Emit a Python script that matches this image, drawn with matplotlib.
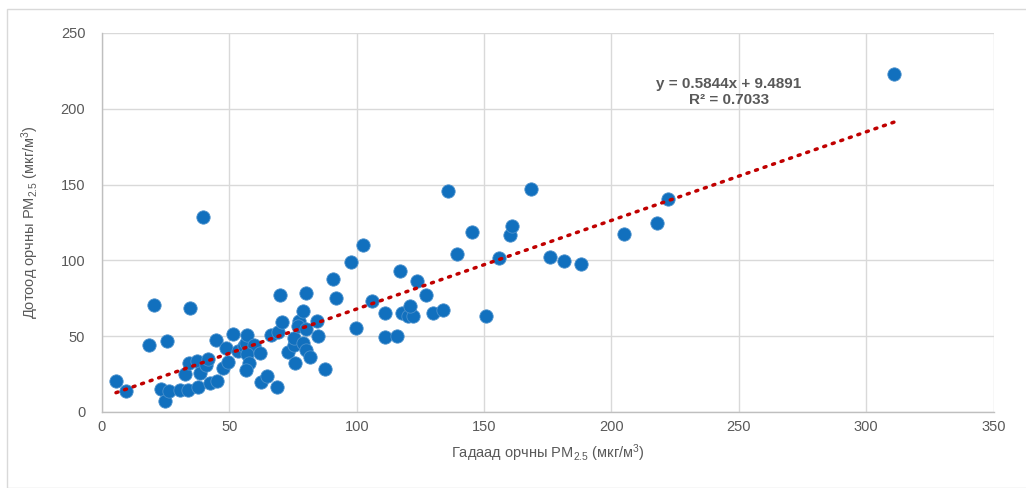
import numpy as np
import matplotlib.pyplot as plt
from matplotlib.patches import Rectangle

plt.rcParams['font.family'] = ['Liberation Sans', 'DejaVu Sans']
plt.rcParams['mathtext.fontset'] = 'custom'
plt.rcParams['mathtext.rm'] = 'Liberation Sans'
plt.rcParams['mathtext.it'] = 'Liberation Sans'

# outdoor PM2.5 (x) vs indoor PM2.5 (y)
outdoor = [5.5, 9.4, 18.6, 20.6, 25.7, 23.3, 24.6, 26.3, 30.7, 33.6,
           34.6, 37.6, 39.6, 32.7, 34.3, 37.3, 38.5, 40.9, 41.7, 42.5,
           45.2, 44.7, 47.6, 49.5, 48.8, 51.6, 53.2, 55.7, 56.7, 56.9,
           59.5, 56.9, 61.9, 57.9, 56.6, 62.6, 64.8, 66.5, 68.9, 70.7,
           69.9, 79.9, 68.7, 73.0, 75.2, 75.5, 75.7, 77.3, 76.8, 78.9,
           80.2, 79.0, 80.2, 81.8, 84.4, 84.7, 87.7, 90.8, 92.0, 97.7,
           102.5, 99.8, 105.8, 111.0, 111.0, 116.0, 116.9, 117.8, 120.0, 122.2,
           120.9, 123.7, 127.3, 129.9, 134.0, 135.8, 139.5, 145.4, 150.9, 155.8,
           160.3, 160.8, 168.5, 175.9, 181.3, 187.9, 204.9, 218.0, 222.0, 311.0]
indoor = [20.5, 13.9, 44.3, 70.8, 46.8, 15.4, 7.5, 13.7, 14.6, 14.6,
          68.3, 16.6, 128.5, 25.3, 32.0, 33.7, 25.9, 31.3, 34.8, 19.3,
          20.4, 47.5, 28.8, 33.2, 42.0, 51.4, 40.5, 43.3, 45.8, 50.7,
          44.5, 38.2, 38.8, 32.6, 27.4, 20.0, 23.5, 50.8, 52.7, 59.3,
          77.3, 78.5, 16.5, 39.5, 44.2, 48.8, 32.5, 59.8, 56.5, 66.5,
          55.0, 45.6, 41.0, 36.2, 59.7, 50.3, 28.3, 87.6, 75.3, 99.2,
          110.4, 55.5, 73.4, 65.5, 49.4, 50.2, 92.7, 65.2, 63.5, 63.5,
          69.9, 86.6, 77.2, 65.4, 67.3, 145.7, 104.1, 118.8, 63.5, 101.6,
          117.0, 122.9, 146.8, 102.5, 99.8, 97.3, 117.6, 124.8, 140.7, 222.7]

slope = 0.5844
intercept = 9.4891
r2 = 0.7033

fig = plt.figure(figsize=(10.26, 4.88), dpi=100)
fig.patches.append(Rectangle((7 / 1026, 0), 1.2, 1 - 9 / 488, transform=fig.transFigure,
                             fill=False, edgecolor='#D9D9D9', linewidth=1))
ax = fig.add_axes([0.0994, 0.1558, 0.8690, 0.7766])

ax.set_xlim(0, 350)
ax.set_ylim(0, 250)
ax.set_xticks(np.arange(0, 351, 50))
ax.set_yticks(np.arange(0, 251, 50))
ax.grid(True, color='#D9D9D9', linewidth=1)
ax.set_axisbelow(True)

for s in ['top', 'right']:
    ax.spines[s].set_visible(False)
for s in ['left', 'bottom']:
    ax.spines[s].set_color('#BFBFBF')
    ax.spines[s].set_linewidth(1)

ax.scatter(outdoor, indoor, s=92, color='#1170BE', edgecolor='#4A90CC', linewidth=0.6, zorder=3)

xs = np.array([min(outdoor), max(outdoor)])
ax.plot(xs, slope * xs + intercept, color='#C00000', linewidth=2.5,
        linestyle=(0, (0.6, 2.0)), dash_capstyle='round', zorder=4)

ax.text(246, 211, f'y = {slope}x + {intercept}\nR² = {r2}', ha='center', va='center',
        fontsize=11, fontweight='bold', color='#595959', linespacing=1.2)

ax.tick_params(axis='y', length=0, labelsize=10.5, labelcolor='#595959', pad=12)
ax.tick_params(axis='x', length=0, labelsize=10.5, labelcolor='#595959', pad=6)
ax.set_xlabel('Гадаад орчны PM$_{2.5}$ (мкг/м$^3$)', fontsize=10.5, color='#595959', labelpad=6)
ax.set_ylabel('Дотоод орчны PM$_{2.5}$ (мкг/м$^3$)', fontsize=10.5, color='#595959', labelpad=14)

fig.savefig('out.png', dpi=100)
